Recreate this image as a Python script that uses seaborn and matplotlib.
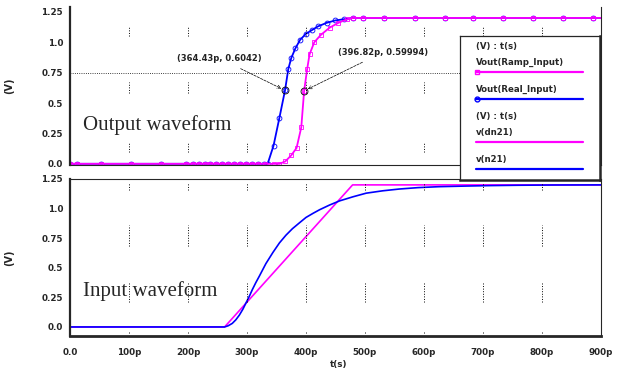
import matplotlib
matplotlib.use("Agg")
import matplotlib.pyplot as plt
import seaborn as sns
from matplotlib.lines import Line2D

# ---- data (time in ps, voltage in V) ----
out_t_ramp = [0, 12, 53, 104, 155, 197, 208, 218, 228, 238, 248, 258, 268, 278, 288, 298,
              308, 318, 330, 345, 355, 365, 375, 384, 392, 396.82, 402, 406, 414, 425, 440,
              455, 470, 480, 496, 533, 584, 635, 683, 734, 785, 836, 886, 900]
out_v_ramp = [0, 0, 0, 0, 0, 0, 0, 0, 0, 0, 0, 0, 0, 0, 0, 0,
              0, 0, 0, 0, 0.0, 0.02, 0.07, 0.13, 0.3, 0.59994, 0.78, 0.9, 1.0, 1.06, 1.12,
              1.16, 1.19, 1.2, 1.2, 1.2, 1.2, 1.2, 1.2, 1.2, 1.2, 1.2, 1.2, 1.2]

out_t_real = [0, 12, 53, 104, 155, 197, 208, 218, 228, 238, 248, 258, 268, 278, 288, 298,
              308, 318, 328, 335, 345, 355, 364.43, 370, 375, 382, 390, 400, 410, 420, 435,
              450, 465, 480, 496, 533, 584, 635, 683, 734, 785, 836, 886, 900]
out_v_real = [0, 0, 0, 0, 0, 0, 0, 0, 0, 0, 0, 0, 0, 0, 0, 0,
              0, 0, 0, 0, 0.15, 0.38, 0.6042, 0.78, 0.87, 0.95, 1.02, 1.07, 1.1, 1.13, 1.16,
              1.18, 1.19, 1.2, 1.2, 1.2, 1.2, 1.2, 1.2, 1.2, 1.2, 1.2, 1.2, 1.2]

in_t_ramp = [0, 262, 479, 900]
in_v_ramp = [0, 0, 1.2, 1.2]

in_t_real = [0, 262, 268, 275, 281, 287, 293, 298, 304, 309, 315, 321, 332, 344, 355, 366,
             377, 389, 400, 412, 423, 440, 457, 480, 502, 530, 558, 590, 626, 670, 711, 760,
             820, 900]
in_v_real = [0, 0, 0.01, 0.03, 0.06, 0.1, 0.15, 0.2, 0.26, 0.315, 0.375, 0.43, 0.535, 0.63,
             0.71, 0.775, 0.83, 0.88, 0.925, 0.96, 0.99, 1.03, 1.065, 1.1, 1.13, 1.15, 1.165,
             1.177, 1.185, 1.19, 1.194, 1.197, 1.199, 1.2]

x_ticks = [0, 100, 200, 300, 400, 500, 600, 700, 800, 900]
x_labels = ["0.0", "100p", "200p", "300p", "400p", "500p", "600p", "700p", "800p", "900p"]
y_ticks = [0, 0.25, 0.5, 0.75, 1.0, 1.25]
y_labels = ["0.0", "0.25", "0.5", "0.75", "1.0", "1.25"]

markers_pts = [(364.43, 0.6042, "(364.43p, 0.6042)"), (396.82, 0.59994, "(396.82p, 0.59994)")]

PINK = "#ff00ff"
BLUE = "#0000ff"

sns.set_style("white")
plt.rcParams["font.family"] = ["DejaVu Sans"]

fig = plt.figure(figsize=(6.17, 3.70), dpi=100)
ax1 = fig.add_axes([0.1135, 0.554, 0.8605, 0.427])
ax2 = fig.add_axes([0.1135, 0.092, 0.8605, 0.4243])

tick_font = dict(fontsize=6.3, fontweight="bold")

# ---- top: output waveforms ----
sns.lineplot(x=out_t_real, y=out_v_real, ax=ax1, color=BLUE, lw=1.3, sort=False,
             marker="o", markersize=3.5, markerfacecolor="none", markeredgecolor=BLUE,
             markeredgewidth=0.6, markevery=slice(0, -1))
sns.lineplot(x=out_t_ramp, y=out_v_ramp, ax=ax1, color=PINK, lw=1.3, sort=False,
             marker="s", markersize=3.2, markerfacecolor="none", markeredgecolor=PINK,
             markeredgewidth=0.6, markevery=slice(0, -1))
ax1.set_xlim(0, 900)
ax1.set_ylim(-0.01, 1.29)
ax1.axhline(0.75, color="black", ls=":", lw=0.6, xmax=0.74)
for xv in x_ticks[1:-1]:
    for lo, hi in [(1.05, 1.13), (0.58, 0.67), (0.10, 0.17)]:
        ax1.vlines(xv, lo, hi, colors="black", linestyles=":", lw=0.7)

offsets = [(-47, 23), (57, 28)]
for (tx, vy, lab), off in zip(markers_pts, offsets):
    ax1.plot(tx, vy, marker="o", ms=5, mfc="none", mec="black", mew=0.6)
    ax1.annotate(lab, xy=(tx, vy), xytext=off, textcoords="offset points",
                 ha="center", va="center", fontsize=6, fontweight="bold", color="#222222",
                 arrowprops=dict(arrowstyle="->", lw=0.5, ls="--", color="black",
                                 shrinkA=4, shrinkB=3))

ax1.text(22, 0.28, "Output waveform", fontsize=15, family="Liberation Serif")
ax1.set_xticks(x_ticks)
ax1.set_xticklabels([])
ax1.tick_params(axis="x", length=0)
ax1.set_yticks(y_ticks)
ax1.set_yticklabels(y_labels, **tick_font)
ax1.tick_params(axis="y", length=3, width=0.8, direction="out", pad=2)
ax1.spines["top"].set_visible(False)
ax1.spines["left"].set_linewidth(1.6)
ax1.spines["right"].set_linewidth(0.8)
ax1.spines["bottom"].set_linewidth(0.8)
ax1.set_xlabel("")
ax1.set_ylabel("(V)", fontsize=7, fontweight="bold", labelpad=20)

# ---- bottom: input waveforms ----
sns.lineplot(x=in_t_ramp, y=in_v_ramp, ax=ax2, color=PINK, lw=1.2, sort=False)
sns.lineplot(x=in_t_real, y=in_v_real, ax=ax2, color=BLUE, lw=1.2, sort=False)
ax2.set_xlim(0, 900)
ax2.set_ylim(-0.076, 1.25)
for xv in x_ticks[1:-1]:
    for lo, hi in [(1.16, 1.22), (0.68, 0.86), (0.21, 0.37), (-0.055, -0.045)]:
        ax2.vlines(xv, lo, hi, colors="black", linestyles=":", lw=0.7)
ax2.text(22, 0.26, "Input waveform", fontsize=15, family="Liberation Serif")
ax2.set_xticks(x_ticks)
ax2.set_xticklabels(x_labels, **tick_font)
ax2.set_yticks(y_ticks)
ax2.set_yticklabels(y_labels, **tick_font)
ax2.tick_params(axis="y", length=3, width=0.8, direction="out", pad=2)
ax2.tick_params(axis="x", length=4, width=0.8, direction="out", pad=5)
ax2.spines["left"].set_linewidth(1.6)
ax2.spines["bottom"].set_linewidth(2.0)
ax2.spines["top"].set_linewidth(0.8)
ax2.spines["right"].set_linewidth(0.8)
ax2.set_xlabel("t(s)", fontsize=6.3, fontweight="bold")
ax2.set_ylabel("(V)", fontsize=7, fontweight="bold", labelpad=20)
ax2.xaxis.set_label_coords(0.505, -0.155)

# ---- legend box ----
lg = fig.add_axes([0.7455, 0.5135, 0.2269, 0.389], zorder=5)
lg.set_xlim(0, 140)
lg.set_ylim(144, 0)
lg.set_xticks([])
lg.set_yticks([])
lg.set_facecolor("white")
for s in lg.spines.values():
    s.set_linewidth(0.9)
lg.spines["right"].set_linewidth(1.8)
lg.spines["bottom"].set_linewidth(1.8)
leg_font = dict(fontsize=6.2, fontweight="bold", va="center", ha="left")
entries = [("(V) : t(s)", None, None), ("Vout(Ramp_Input)", PINK, "s"),
           ("Vout(Real_Input)", BLUE, "o"), ("(V) : t(s)", None, None),
           ("v(dn21)", PINK, None), ("v(n21)", BLUE, None)]
y = 10
for lab, col, mk in entries:
    lg.text(16, y, lab, **leg_font)
    if col is None:
        y += 16
        continue
    lg.add_line(Line2D([16, 123], [y + 10, y + 10], color=col, lw=1.6))
    if mk is not None:
        lg.add_line(Line2D([17], [y + 10], marker=mk, ms=3.5, mfc="none", mec=col, mew=1))
    y += 27

fig.savefig("out.png", dpi=100)
